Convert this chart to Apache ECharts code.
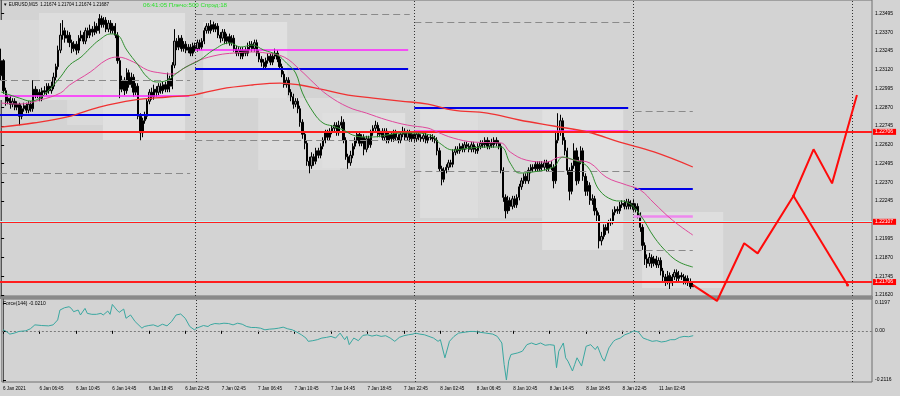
<!DOCTYPE html>
<html><head><meta charset="utf-8">
<script src="https://cdn.jsdelivr.net/npm/echarts@6/dist/echarts.min.js"></script>
<style>html,body{margin:0;padding:0;background:#d3d3d3}#c{width:900px;height:396px}</style>
</head><body><div id="c"></div><script>
// ---------- DATA ----------
const tickBars = [0,16,32,48,64,80,96,112,128,144,160,176,192,208,224,240,256,272,288];
const tickLabels = ["6 Jan 2021","6 Jan 06:45","6 Jan 10:45","6 Jan 14:45","6 Jan 18:45","6 Jan 22:45","7 Jan 02:45","7 Jan 06:45","7 Jan 10:45","7 Jan 14:45","7 Jan 18:45","7 Jan 22:45","8 Jan 02:45","8 Jan 06:45","8 Jan 10:45","8 Jan 14:45","8 Jan 18:45","8 Jan 22:45","11 Jan 02:45"];
const priceTicks = [1.21620,1.21745,1.21870,1.21995,1.22245,1.22370,1.22495,1.22620,1.22745,1.22870,1.22995,1.23120,1.23245,1.23370,1.23495];
const forceTicks = [-0.2116,0,0.1197];
const daySeparators = [85,181,277,373];

const opens = [1.2308,1.2318,1.2298,1.2291,1.2293,1.2289,1.2291,1.2287,1.2289,1.2281,
1.2286,1.2288,1.2285,1.2289,1.2286,1.2299,1.2295,1.2297,1.2293,1.2298,
1.2297,1.2301,1.2298,1.2301,1.2307,1.2314,1.2325,1.2335,1.2338,1.2333,
1.2335,1.2330,1.2326,1.2329,1.2325,1.2333,1.2335,1.2331,1.2338,1.2335,
1.2339,1.2337,1.2341,1.2338,1.2346,1.2342,1.2345,1.2339,1.2343,1.2338,
1.2341,1.2335,1.2318,1.2299,1.2305,1.2298,1.2310,1.2302,1.2307,1.2297,
1.2301,1.2281,1.2270,1.2278,1.2281,1.2291,1.2297,1.2294,1.2299,1.2297,
1.2301,1.2298,1.2302,1.2299,1.2306,1.2301,1.2315,1.2331,1.2327,1.2333,
1.2326,1.2329,1.2325,1.2327,1.2323,1.2328,1.2326,1.2330,1.2327,1.2331,
1.2338,1.2341,1.2338,1.2342,1.2339,1.2341,1.2335,1.2333,1.2337,1.2331,
1.2334,1.2330,1.2333,1.2326,1.2323,1.2325,1.2321,1.2325,1.2323,1.2327,
1.2329,1.2326,1.2330,1.2323,1.2319,1.2317,1.2314,1.2318,1.2321,1.2317,
1.2321,1.2323,1.2319,1.2314,1.2309,1.2302,1.2305,1.2297,1.2294,1.2289,
1.2291,1.2286,1.2277,1.2269,1.2263,1.2251,1.2248,1.2254,1.2251,1.2258,
1.2255,1.2261,1.2265,1.2270,1.2267,1.2271,1.2273,1.2275,1.2270,1.2275,
1.2277,1.2265,1.2254,1.2250,1.2255,1.2261,1.2265,1.2269,1.2263,1.2267,
1.2259,1.2266,1.2262,1.2270,1.2273,1.2275,1.2269,1.2271,1.2267,1.2271,
1.2265,1.2269,1.2266,1.2270,1.2267,1.2265,1.2269,1.2271,1.2267,1.2270,
1.2266,1.2269,1.2266,1.2269,1.2267,1.2266,1.2268,1.2265,1.2267,1.2267,
1.2266,1.2265,1.2258,1.2246,1.2239,1.2245,1.2247,1.2250,1.2249,1.2257,
1.2259,1.2258,1.2261,1.2259,1.2262,1.2261,1.2259,1.2262,1.2259,1.2258,
1.2261,1.2263,1.2262,1.2265,1.2261,1.2263,1.2262,1.2265,1.2263,1.2261,
1.2245,1.2227,1.2218,1.2225,1.2221,1.2226,1.2222,1.2227,1.2234,1.2238,
1.2241,1.2238,1.2245,1.2247,1.2246,1.2249,1.2246,1.2249,1.2247,1.2250,
1.2246,1.2249,1.2247,1.2238,1.2265,1.2271,1.2278,1.2265,1.2258,1.2245,
1.2231,1.2248,1.2258,1.2238,1.2251,1.2258,1.2241,1.2231,1.2235,1.2225,
1.2226,1.2218,1.2215,1.2198,1.2201,1.2207,1.2205,1.2210,1.2211,1.2217,
1.2219,1.2218,1.2222,1.2223,1.2221,1.2224,1.2221,1.2223,1.2219,1.2221,
1.2215,1.2207,1.2195,1.2186,1.2183,1.2187,1.2183,1.2186,1.2182,1.2185,
1.2178,1.2174,1.2171,1.2175,1.2170,1.2174,1.2177,1.2173,1.2175,1.2174,
1.2171,1.2173,1.2170,1.21674];

const closes = [1.2318,1.2298,1.2291,1.2293,1.2289,1.2291,1.2287,1.2289,1.2281,1.2286,
1.2288,1.2285,1.2289,1.2286,1.2299,1.2295,1.2297,1.2293,1.2298,1.2297,
1.2301,1.2298,1.2301,1.2307,1.2314,1.2325,1.2335,1.2338,1.2333,1.2335,
1.2330,1.2326,1.2329,1.2325,1.2333,1.2335,1.2331,1.2338,1.2335,1.2339,
1.2337,1.2341,1.2338,1.2346,1.2342,1.2345,1.2339,1.2343,1.2338,1.2341,
1.2335,1.2318,1.2299,1.2305,1.2298,1.2310,1.2302,1.2307,1.2297,1.2301,
1.2281,1.2270,1.2278,1.2281,1.2291,1.2297,1.2294,1.2299,1.2297,1.2301,
1.2298,1.2302,1.2299,1.2306,1.2301,1.2315,1.2331,1.2327,1.2333,1.2326,
1.2329,1.2325,1.2327,1.2323,1.2328,1.2326,1.2330,1.2327,1.2331,1.2338,
1.2341,1.2338,1.2342,1.2339,1.2341,1.2335,1.2333,1.2337,1.2331,1.2334,
1.2330,1.2333,1.2326,1.2323,1.2325,1.2321,1.2325,1.2323,1.2327,1.2329,
1.2326,1.2330,1.2323,1.2319,1.2317,1.2314,1.2318,1.2321,1.2317,1.2321,
1.2323,1.2319,1.2314,1.2309,1.2302,1.2305,1.2297,1.2294,1.2289,1.2291,
1.2286,1.2277,1.2269,1.2263,1.2251,1.2248,1.2254,1.2251,1.2258,1.2255,
1.2261,1.2265,1.2270,1.2267,1.2271,1.2273,1.2275,1.2270,1.2275,1.2277,
1.2265,1.2254,1.2250,1.2255,1.2261,1.2265,1.2269,1.2263,1.2267,1.2259,
1.2266,1.2262,1.2270,1.2273,1.2275,1.2269,1.2271,1.2267,1.2271,1.2265,
1.2269,1.2266,1.2270,1.2267,1.2265,1.2269,1.2271,1.2267,1.2270,1.2266,
1.2269,1.2266,1.2269,1.2267,1.2266,1.2268,1.2265,1.2267,1.2267,1.2266,
1.2265,1.2258,1.2246,1.2239,1.2245,1.2247,1.2250,1.2249,1.2257,1.2259,
1.2258,1.2261,1.2259,1.2262,1.2261,1.2259,1.2262,1.2259,1.2258,1.2261,
1.2263,1.2262,1.2265,1.2261,1.2263,1.2262,1.2265,1.2263,1.2261,1.2245,
1.2227,1.2218,1.2225,1.2221,1.2226,1.2222,1.2227,1.2234,1.2238,1.2241,
1.2238,1.2245,1.2247,1.2246,1.2249,1.2246,1.2249,1.2247,1.2250,1.2246,
1.2249,1.2247,1.2238,1.2265,1.2271,1.2278,1.2265,1.2258,1.2245,1.2231,
1.2248,1.2258,1.2238,1.2251,1.2258,1.2241,1.2231,1.2235,1.2225,1.2226,
1.2218,1.2215,1.2198,1.2201,1.2207,1.2205,1.2210,1.2211,1.2217,1.2219,
1.2218,1.2222,1.2223,1.2221,1.2224,1.2221,1.2223,1.2219,1.2221,1.2215,
1.2207,1.2195,1.2186,1.2183,1.2187,1.2183,1.2186,1.2182,1.2185,1.2178,
1.2174,1.2171,1.2175,1.2170,1.2174,1.2177,1.2173,1.2175,1.2174,1.2171,
1.2173,1.2170,1.21674,1.21687];

const highs = [1.2326,1.2319,1.2300,1.2295,1.2295,1.2293,1.2293,1.2291,1.2290,1.2288,
1.2290,1.2290,1.2291,1.2291,1.2305,1.2301,1.2299,1.2299,1.2300,1.2301,
1.2303,1.2303,1.2304,1.2310,1.2316,1.2328,1.2343,1.2345,1.2340,1.2338,
1.2337,1.2332,1.2331,1.2331,1.2335,1.2338,1.2337,1.2340,1.2340,1.2342,
1.2341,1.2344,1.2343,1.2349,1.2348,1.2347,1.2347,1.2345,1.2345,1.2343,
1.2343,1.2337,1.2320,1.2308,1.2307,1.2313,1.2312,1.2310,1.2309,1.2303,
1.2303,1.2283,1.2280,1.2284,1.2293,1.2299,1.2300,1.2302,1.2301,1.2303,
1.2303,1.2304,1.2304,1.2310,1.2308,1.2317,1.2339,1.2333,1.2335,1.2335,
1.2331,1.2331,1.2329,1.2329,1.2330,1.2330,1.2332,1.2332,1.2333,1.2340,
1.2343,1.2343,1.2345,1.2344,1.2343,1.2343,1.2337,1.2339,1.2339,1.2336,
1.2336,1.2335,1.2335,1.2328,1.2327,1.2327,1.2327,1.2327,1.2330,1.2331,
1.2331,1.2332,1.2332,1.2325,1.2321,1.2319,1.2320,1.2323,1.2323,1.2323,
1.2326,1.2325,1.2321,1.2316,1.2311,1.2307,1.2307,1.2299,1.2296,1.2293,
1.2293,1.2288,1.2279,1.2271,1.2265,1.2254,1.2257,1.2256,1.2260,1.2260,
1.2263,1.2267,1.2272,1.2272,1.2273,1.2275,1.2277,1.2277,1.2278,1.2281,
1.2279,1.2267,1.2256,1.2258,1.2263,1.2267,1.2271,1.2271,1.2269,1.2269,
1.2268,1.2268,1.2272,1.2275,1.2278,1.2277,1.2273,1.2273,1.2273,1.2273,
1.2271,1.2271,1.2272,1.2272,1.2269,1.2271,1.2274,1.2273,1.2272,1.2272,
1.2271,1.2271,1.2271,1.2271,1.2269,1.2270,1.2270,1.2269,1.2269,1.2269,
1.2268,1.2267,1.2260,1.2248,1.2247,1.2249,1.2252,1.2252,1.2259,1.2261,
1.2261,1.2263,1.2263,1.2264,1.2264,1.2263,1.2264,1.2264,1.2261,1.2263,
1.2265,1.2265,1.2267,1.2267,1.2265,1.2266,1.2267,1.2267,1.2265,1.2263,
1.2247,1.2229,1.2228,1.2227,1.2228,1.2228,1.2229,1.2236,1.2240,1.2243,
1.2243,1.2247,1.2249,1.2249,1.2251,1.2251,1.2251,1.2251,1.2252,1.2252,
1.2251,1.2251,1.2249,1.2271,1.2283,1.2282,1.2280,1.2267,1.2260,1.2247,
1.2250,1.2263,1.2260,1.2254,1.2261,1.2260,1.2243,1.2238,1.2237,1.2229,
1.2228,1.2220,1.2217,1.2204,1.2209,1.2209,1.2212,1.2213,1.2219,1.2221,
1.2221,1.2224,1.2225,1.2225,1.2226,1.2226,1.2225,1.2226,1.2223,1.2223,
1.2217,1.2209,1.2197,1.2189,1.2190,1.2189,1.2188,1.2188,1.2187,1.2187,
1.2180,1.2176,1.2178,1.2177,1.2176,1.2179,1.2179,1.2178,1.2177,1.2176,
1.2175,1.2175,1.2173,1.21704];

const lows = [1.2305,1.2296,1.2288,1.2289,1.2286,1.2287,1.2285,1.2285,1.2275,1.2279,
1.2284,1.2283,1.2283,1.2284,1.2284,1.2293,1.2293,1.2291,1.2291,1.2295,
1.2295,1.2296,1.2296,1.2299,1.2305,1.2312,1.2323,1.2332,1.2330,1.2330,
1.2327,1.2323,1.2324,1.2322,1.2323,1.2331,1.2329,1.2329,1.2333,1.2333,
1.2334,1.2335,1.2336,1.2336,1.2340,1.2340,1.2337,1.2337,1.2336,1.2336,
1.2333,1.2316,1.2293,1.2297,1.2295,1.2296,1.2300,1.2300,1.2294,1.2295,
1.2279,1.2265,1.2267,1.2276,1.2279,1.2289,1.2292,1.2292,1.2294,1.2295,
1.2296,1.2296,1.2297,1.2297,1.2297,1.2299,1.2313,1.2325,1.2325,1.2324,
1.2324,1.2323,1.2323,1.2321,1.2321,1.2324,1.2324,1.2325,1.2325,1.2329,
1.2336,1.2336,1.2336,1.2337,1.2337,1.2333,1.2330,1.2331,1.2329,1.2329,
1.2328,1.2328,1.2324,1.2321,1.2321,1.2319,1.2319,1.2321,1.2321,1.2325,
1.2324,1.2324,1.2321,1.2317,1.2314,1.2312,1.2312,1.2316,1.2315,1.2315,
1.2319,1.2317,1.2312,1.2307,1.2300,1.2300,1.2295,1.2291,1.2286,1.2287,
1.2283,1.2274,1.2266,1.2259,1.2248,1.2243,1.2246,1.2248,1.2249,1.2253,
1.2253,1.2259,1.2263,1.2265,1.2265,1.2269,1.2271,1.2268,1.2268,1.2273,
1.2263,1.2252,1.2246,1.2248,1.2253,1.2259,1.2263,1.2261,1.2261,1.2255,
1.2257,1.2260,1.2260,1.2268,1.2271,1.2267,1.2267,1.2265,1.2265,1.2263,
1.2263,1.2264,1.2264,1.2265,1.2263,1.2263,1.2267,1.2265,1.2265,1.2264,
1.2264,1.2264,1.2264,1.2265,1.2264,1.2264,1.2263,1.2263,1.2265,1.2264,
1.2263,1.2255,1.2244,1.2235,1.2237,1.2243,1.2245,1.2247,1.2247,1.2255,
1.2256,1.2256,1.2257,1.2257,1.2259,1.2257,1.2257,1.2257,1.2256,1.2256,
1.2259,1.2260,1.2260,1.2259,1.2259,1.2260,1.2260,1.2261,1.2259,1.2243,
1.2224,1.2213,1.2216,1.2218,1.2219,1.2220,1.2220,1.2225,1.2232,1.2236,
1.2236,1.2236,1.2243,1.2244,1.2244,1.2244,1.2244,1.2245,1.2245,1.2244,
1.2244,1.2245,1.2233,1.2236,1.2263,1.2268,1.2262,1.2255,1.2242,1.2225,
1.2229,1.2246,1.2235,1.2236,1.2249,1.2238,1.2228,1.2228,1.2222,1.2222,
1.2215,1.2211,1.2193,1.2195,1.2199,1.2202,1.2203,1.2208,1.2209,1.2215,
1.2216,1.2216,1.2220,1.2219,1.2219,1.2219,1.2219,1.2217,1.2217,1.2213,
1.2204,1.2192,1.2182,1.2180,1.2181,1.2180,1.2181,1.2180,1.2180,1.2175,
1.2171,1.2168,1.2169,1.2166,1.2168,1.2172,1.2171,1.2171,1.2172,1.2169,
1.2169,1.2168,1.2166,1.21674];

// moving averages: [bar, price]
const maFast = [[0,1.22971],[4,1.22951],[8,1.22931],[13,1.22911],[17,1.22931],[21,1.22985],[26,1.23071],[30,1.23151],[35,1.23204],[39,1.23264],[43,1.23318],[48,1.23358],[51,1.23351],[55,1.23251],[60,1.23151],[64,1.23071],[68,1.23038],[73,1.23051],[77,1.23098],[81,1.23138],[87,1.23184],[93,1.23251],[100,1.23298],[105,1.23271],[110,1.23284],[115,1.23251],[121,1.23218],[125,1.23164],[129,1.23098],[132,1.22965],[137,1.22831],[141,1.22765],[145,1.22745],[150,1.22718],[154,1.22685],[159,1.22672],[163,1.22672],[169,1.22685],[175,1.22698],[180,1.22698],[188,1.22685],[192,1.22632],[198,1.22585],[205,1.22598],[213,1.22605],[219,1.22605],[223,1.22498],[227,1.22432],[233,1.22439],[242,1.22472],[246,1.22538],[251,1.22518],[257,1.22472],[262,1.22319],[268,1.22252],[274,1.22239],[280,1.22152],[286,1.22006],[292,1.21899],[297,1.21839],[303,1.21806]];
const maMid = [[0,1.22898],[8,1.22891],[17,1.22918],[26,1.22965],[30,1.23018],[39,1.23104],[46,1.23184],[51,1.23204],[58,1.23171],[64,1.23118],[70,1.23098],[75,1.23091],[81,1.23138],[87,1.23184],[95,1.23218],[102,1.23231],[110,1.23238],[116,1.23231],[124,1.23204],[131,1.23118],[137,1.23031],[143,1.22951],[152,1.22871],[160,1.22831],[169,1.22785],[178,1.22751],[187,1.22731],[191,1.22705],[198,1.22665],[207,1.22638],[219,1.22632],[223,1.22572],[230,1.22518],[239,1.22505],[245,1.22538],[251,1.22518],[258,1.22498],[265,1.22405],[274,1.22352],[280,1.22319],[286,1.22232],[294,1.22119],[303,1.22019]];
const maSlow = [[0,1.22738],[14,1.22765],[29,1.22805],[43,1.22871],[58,1.22918],[73,1.22938],[84,1.22951],[96,1.22991],[110,1.23018],[122,1.23031],[131,1.23018],[140,1.22991],[152,1.22951],[163,1.22931],[175,1.22911],[187,1.22891],[198,1.22851],[213,1.22831],[227,1.22785],[242,1.22745],[257,1.22705],[271,1.22638],[286,1.22572],[303,1.22472]];

// drawn objects: [fromBar, toBar, price]
const blueLevels = [[-0.5,82.8,1.22818],[85,178.3,1.23129],[181,274.7,1.22869],[277.5,303,1.22327]];
const magentaLevels = [[-0.5,82.4,1.22945],[85,178.3,1.23251],[181,274.7,1.22714]];
const violetLevels = [[277,303,1.22146]];
const dashedLevels = [[-0.5,82.8,1.23051],[-0.5,82.8,1.22432],[85,179,1.23491],[85,179,1.22652],[181,275.5,1.23439],[181,275.5,1.22445],[277.5,303,1.22843],[277.5,303,1.21917]];
const levelLines = [1.22706,1.22107,1.21706];
const bidPrice = 1.21687;
// zones: [fromBar, toBar, topPrice, bottomPrice]
const zones = [[-0.5,16.6,1.23451,1.22918],[16.6,44.6,1.23497,1.22918],[44.6,80.6,1.23497,1.22652],[28.9,44.6,1.22918,1.22752],[88.5,125.3,1.23437,1.22931],[112.6,148.5,1.22931,1.22452],[140.6,177,1.22831,1.22465],[183.5,209,1.22851,1.22132],[209,237,1.22851,1.22132],[237,272.5,1.22851,1.21919],[280.8,316.3,1.22172,1.21666]];
// forecast zigzag: [bar, price]
const forecastMain = [[303,1.21687],[313.6,1.21580],[325.5,1.21964],[331.4,1.21897],[347.1,1.22279],[355.9,1.22590],[364,1.22363],[374.9,1.22951]];
const forecastAlt = [[347.1,1.22279],[370.8,1.21686]];
// Force(144): [bar, value]
const forceData = [[0,0.0042],[1,0],[3,-0.0142],[5,-0.0099],[7,-0.0028],[10,0],[12,0.0085],[14,0.0255],[17,0.0227],[20,0.0212],[22,0.0255],[24,0.0467],[25,0.0892],[27,0.0991],[29,0.1034],[30,0.0963],[31,0.0821],[33,0.0892],[34,0.0680],[36,0.0963],[37,0.0750],[39,0.0708],[41,0.0708],[43,0.0750],[44,0.0680],[46,0.0850],[47,0.0708],[48,0.1133],[50,0.0892],[51,0.0793],[53,0.0935],[54,0.0538],[56,0.0680],[58,0.0396],[61,0.0113],[62,0.0184],[64,0.0227],[66,0.0255],[68,0.0184],[70,0.0283],[72,0.0212],[74,0.0396],[76,0.0680],[78,0.0722],[80,0.0538],[82,0.0184],[84,0.0042],[85,0.0113],[88,0.0227],[90,0.0184],[91,0.0255],[93,0.0312],[95,0.0297],[97,0.0326],[99,0.0312],[101,0.0255],[103,0.0326],[105,0.0283],[107,0.0184],[109,0.0142],[111,0.0142],[113,0.0113],[115,0.0042],[117,0.0071],[119,0.0085],[121,0.0113],[123,0.0156],[125,0.0085],[127,0.0042],[129,-0.0057],[131,-0.0170],[133,-0.0312],[134,-0.0453],[136,-0.0425],[138,-0.0382],[140,-0.0312],[142,-0.0283],[144,-0.0241],[146,-0.0312],[148,-0.0099],[150,-0.0382],[151,-0.0241],[152,-0.0595],[154,-0.0312],[156,-0.0425],[158,-0.0198],[160,-0.0170],[162,-0.0227],[164,-0.0184],[166,-0.0241],[168,-0.0212],[170,-0.0312],[172,-0.0453],[174,-0.0283],[176,-0.0212],[178,-0.0170],[180,-0.0142],[181,-0.0099],[183,-0.0142],[185,-0.0170],[187,-0.0241],[189,-0.0312],[191,-0.0453],[192,-0.0382],[194,-0.1161],[196,-0.0453],[198,-0.0241],[200,-0.0099],[203,-0.0057],[205,-0.0028],[207,-0.0028],[209,-0.0057],[212,-0.0099],[215,-0.0142],[217,-0.0241],[219,-0.0524],[220,-0.1444],[221,-0.2116],[222,-0.1303],[223,-0.1020],[226,-0.0949],[228,-0.0878],[230,-0.0595],[232,-0.0524],[234,-0.0595],[236,-0.0524],[238,-0.0623],[240,-0.0595],[242,-0.0623],[243,-0.1586],[244,-0.0878],[246,-0.0524],[247,-0.1161],[248,-0.1303],[250,-0.1728],[251,-0.1444],[252,-0.1161],[254,-0.1515],[256,-0.0666],[258,-0.0595],[260,-0.0807],[261,-0.0666],[263,-0.1161],[264,-0.1303],[266,-0.0736],[268,-0.0453],[269,-0.0382],[271,-0.0312],[273,-0.0170],[275,-0.0099],[277,0],[279,-0.0057],[281,-0.0312],[283,-0.0382],[285,-0.0453],[287,-0.0425],[289,-0.0481],[291,-0.0453],[293,-0.0382],[295,-0.0382],[297,-0.0283],[299,-0.0241],[301,-0.0255],[303,-0.0210]];

const headerText = '▼ EURUSD,M15  1.21674 1.21704 1.21674 1.21687';
const statusText = '06:41:05 Плечо:500 Спрэд:18';
const forceTitle = 'Force(144) -0.0210';

// ---------- STYLE / LAYOUT ----------
const SLOTS = 382;
const FONT = 'Liberation Sans';
const zoneShades = ['#d9d9d9','#dddddd','#e0e0e0','#dadada','#e0e0e0','#dcdcdc','#dfdfdf','#dddddd','#d9d9d9','#e0e0e0','#dedede'];
const xMin = -0.5, xMax = SLOTS - 0.5;
const slots = Array.from({length: SLOTS}, (_, i) => String(i));
const candles = opens.map((o, i) => [o, closes[i], lows[i], highs[i]]);
const seg = (arr, style) => arr.map(s => [{coord:[s[0], s[2]], lineStyle: style}, {coord:[s[1], s[2]]}]);
const boxLabel = (txt, bg) => ({show: true, position: 'end', distance: 1, formatter: txt, backgroundColor: bg, color: '#fff', fontSize: 5, padding: [1, 3, 0, 2], fontFamily: FONT});

const chart = echarts.init(document.getElementById('c'));
chart.setOption({
  backgroundColor: '#d3d3d3',
  animation: false,
  textStyle: {fontFamily: FONT},
  grid: [
    {left: 0, top: 0, width: 872, height: 296, show: true, borderColor: '#6e6e6e', borderWidth: 1},
    {left: 0, top: 299, width: 872, height: 83, show: true, borderColor: '#6e6e6e', borderWidth: 1}
  ],
  xAxis: [
    {type: 'category', gridIndex: 0, data: slots, show: false, boundaryGap: true},
    {type: 'value', gridIndex: 0, min: xMin, max: xMax, show: false},
    {type: 'value', gridIndex: 1, min: xMin, max: xMax, splitLine: {show: false}, axisLine: {show: false},
      axisTick: {show: true, customValues: tickBars, length: 3, lineStyle: {color: '#000'}},
      axisLabel: {customValues: tickBars, formatter: v => tickLabels[tickBars.indexOf(Math.round(v))] || '',
        align: 'left', fontSize: 4.6, color: '#000', margin: 4, fontFamily: FONT}}
  ],
  yAxis: [
    {type: 'value', gridIndex: 0, position: 'right', min: 1.21613, max: 1.23584, scale: true,
      splitLine: {show: false}, axisLine: {show: true, lineStyle: {color: '#555'}},
      axisTick: {show: true, customValues: priceTicks, length: 3, lineStyle: {color: '#000'}},
      axisLabel: {customValues: priceTicks, formatter: v => v.toFixed(5), fontSize: 5, color: '#000', margin: 3, fontFamily: FONT}},
    {type: 'value', gridIndex: 1, position: 'right', min: -0.2201, max: 0.1367,
      splitLine: {show: false}, axisLine: {show: true, lineStyle: {color: '#555'}},
      axisTick: {show: true, customValues: forceTicks, length: 3, lineStyle: {color: '#000'}},
      axisLabel: {customValues: forceTicks, formatter: v => Math.abs(v) < 1e-9 ? '0.00' : v.toFixed(4), fontSize: 5, color: '#000', margin: 3, fontFamily: FONT}}
  ],
  series: [
    {type: 'line', xAxisIndex: 1, yAxisIndex: 0, data: [], z: 1, silent: true,
      markArea: {silent: true, data: zones.map((r, k) => [{coord: [r[0], r[2]], itemStyle: {color: zoneShades[k]}}, {coord: [r[1], r[3]]}])}},
    {type: 'line', xAxisIndex: 1, yAxisIndex: 0, data: [], z: 2, silent: true,
      markLine: {silent: true, symbol: 'none', precision: 5, label: {show: false},
        data: seg(dashedLevels, {color: '#8a8a8a', width: 1, type: [7, 4]})
          .concat(daySeparators.map(d => ({xAxis: d, lineStyle: {color: '#333', width: 1, type: [1, 2]}})))}},
    {type: 'candlestick', xAxisIndex: 0, yAxisIndex: 0, data: candles, z: 3, barWidth: 1.8,
      itemStyle: {color: '#9c9c9c', color0: '#000', borderColor: '#000', borderColor0: '#000', borderWidth: 1}},
    {type: 'line', xAxisIndex: 1, yAxisIndex: 0, data: [], z: 4, silent: true,
      markLine: {silent: true, symbol: 'none', precision: 5, label: {show: false},
        data: seg(blueLevels, {color: '#0000e6', width: 2, type: 'solid'})
          .concat(seg(magentaLevels, {color: '#ff22ff', width: 1.5, type: 'solid'}))
          .concat(seg(violetLevels, {color: '#ee88ee', width: 2.5, type: 'solid'}))}},
    {type: 'line', xAxisIndex: 1, yAxisIndex: 0, data: maSlow, z: 5, showSymbol: false, smooth: 0.4, silent: true,
      lineStyle: {color: '#f03232', width: 1.3}},
    {type: 'line', xAxisIndex: 1, yAxisIndex: 0, data: maMid, z: 5, showSymbol: false, smooth: 0.4, silent: true,
      lineStyle: {color: '#e0489c', width: 1}},
    {type: 'line', xAxisIndex: 1, yAxisIndex: 0, data: maFast, z: 5, showSymbol: false, smooth: 0.4, silent: true,
      lineStyle: {color: '#2f8f2f', width: 1}},
    {type: 'line', xAxisIndex: 1, yAxisIndex: 0, data: [], z: 6, silent: true,
      markLine: {silent: true, symbol: 'none', precision: 5,
        data: [{yAxis: bidPrice, lineStyle: {opacity: 0}, label: boxLabel(bidPrice.toFixed(5), '#000')}]}},
    {type: 'line', xAxisIndex: 1, yAxisIndex: 0, data: [], z: 7, silent: true,
      markLine: {silent: true, symbol: 'none', precision: 5,
        data: levelLines.map(p => ({yAxis: p + 0.00003, lineStyle: {color: '#bff5f5', width: 1, type: 'solid'}, label: {show: false}}))
          .concat(levelLines.map((p, k) => ({yAxis: p, lineStyle: {color: '#ff1e1e', width: k === 1 ? 1 : 2, type: 'solid'},
            label: boxLabel(p.toFixed(5), '#ff0000')})))}},
    {type: 'line', xAxisIndex: 1, yAxisIndex: 0, data: forecastMain, z: 8, showSymbol: false, clip: false, silent: true,
      lineStyle: {color: '#ff0a0a', width: 2}},
    {type: 'line', xAxisIndex: 1, yAxisIndex: 0, data: forecastAlt, z: 8, symbol: 'circle', symbolSize: 3, showSymbol: true, clip: false, silent: true,
      itemStyle: {color: '#ff0a0a'}, lineStyle: {color: '#ff0a0a', width: 2}},
    {type: 'line', xAxisIndex: 2, yAxisIndex: 1, data: forceData, z: 5, showSymbol: false, silent: true,
      lineStyle: {color: '#3aa7a0', width: 1},
      markLine: {silent: true, symbol: 'none', precision: 5, label: {show: false},
        data: [{yAxis: 0, lineStyle: {color: '#7a7a7a', width: 1, type: [2, 2]}}]
          .concat(daySeparators.map(d => ({xAxis: d, lineStyle: {color: '#333', width: 1, type: [1, 2]}})))}}
  ],
  graphic: [
    {type: 'rect', left: 0, top: 296, z: 0, shape: {width: 873, height: 3}, style: {fill: '#8a8a8a'}},
    {type: 'text', left: 3, top: 2, z: 100, style: {text: headerText, fontSize: 4.5, fontFamily: FONT, fill: '#000'}},
    {type: 'text', left: 143, top: 2, z: 100, style: {text: statusText, fontSize: 6.2, fontFamily: FONT, fill: '#2ee02e'}},
    {type: 'text', left: 3, top: 301, z: 100, style: {text: forceTitle, fontSize: 5, fontFamily: FONT, fill: '#000'}}
  ]
});
</script></body></html>
